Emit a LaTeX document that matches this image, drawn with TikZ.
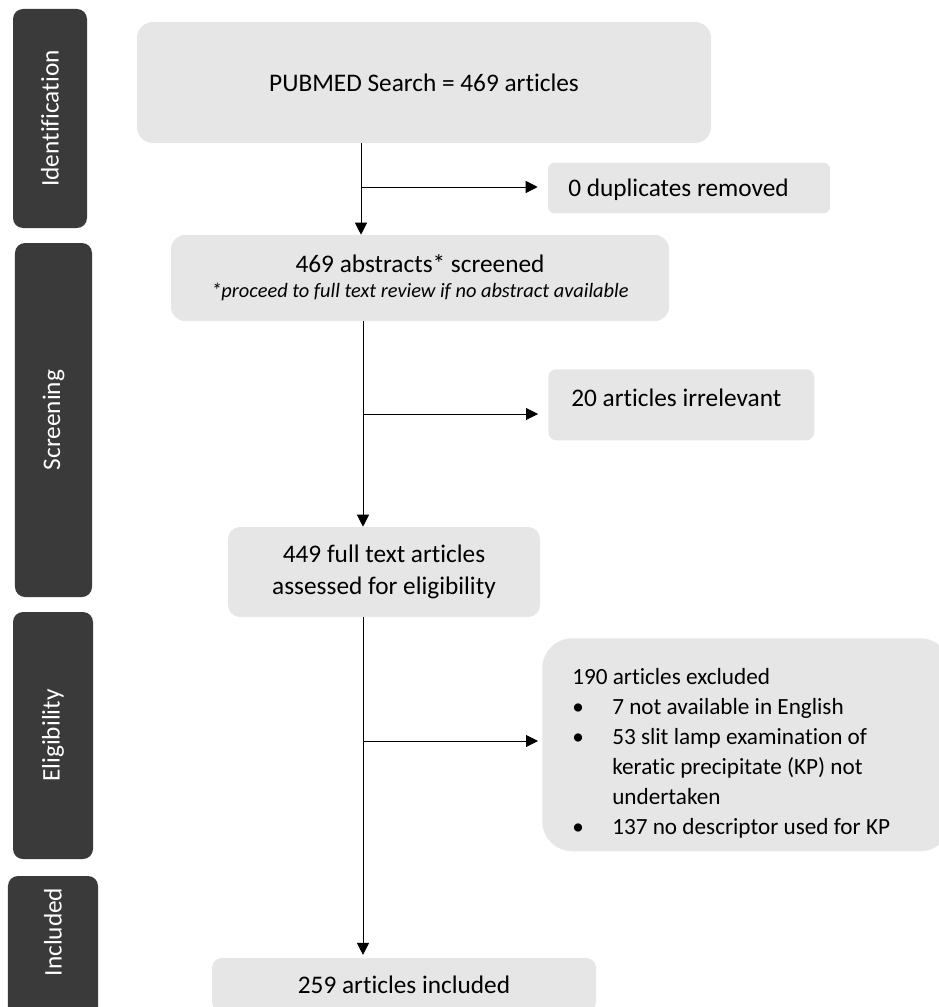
\documentclass[tikz,border=0pt]{standalone}
\usepackage{fontspec}
\setmainfont{Carlito}[Ligatures=NoCommon]
\usepackage{tikz}
\usetikzlibrary{calc, shapes, arrows.meta}
\definecolor{bardark}{RGB}{58,58,58}
\definecolor{boxgrey}{RGB}{230,230,230}

\begin{document}
\begin{tikzpicture}
\tikzstyle{phase}=[rounded corners=0.25cm,fill=bardark,text=white,rotate=90,inner sep=0pt,font=\fontsize{18}{22}\selectfont]
\tikzstyle{box}=[rounded corners=0.4cm,fill=boxgrey,inner sep=0pt,align=center,font=\fontsize{18}{22.5}\selectfont]
\tikzstyle{txt}=[inner sep=0pt,align=left,font=\fontsize{18}{22.5}\selectfont]
\tikzstyle{arr}=[-{Triangle[length=0.3cm,width=0.3cm]},line width=0.7pt]
\useasboundingbox (0,0) rectangle (23.475,-25.175);
% stage bars on the left
\node[phase,minimum width=5.475cm,minimum height=1.85cm] (P_id) at (1.25,-2.9625) {Identification};
\node[phase,minimum width=8.85cm,minimum height=1.925cm] (P_sc) at (1.3375,-10.5) {Screening};
\node[phase,minimum width=6.175cm,minimum height=2cm] (P_el) at (1.325,-18.3875) {Eligibility};
\node[phase,minimum width=4.5cm,minimum height=2.25cm] (P_in) at (1.325,-24.15) {};
\node[phase,fill=none] (P_in_t) at (1.325,-23.3) {Included};
% boxes
\node[box,minimum width=14.35cm,minimum height=3.025cm] (search) at (10.6,-2.0625) {PUBMED Search = 469 articles};
\node[box,rounded corners=0.15cm,minimum width=7.05cm,minimum height=1.25cm] (dup) at (17.225,-4.7) {};
\node[txt,anchor=west] (dup_t) at (14.2,-4.75) {0 duplicates removed};
\node[box,rounded corners=0.35cm,minimum width=12.45cm,minimum height=2.15cm] (abs) at (10.5,-6.95) {469 abstracts* screened\\[-4.5pt]{\fontsize{14.5}{17}\selectfont\itshape *proceed to full text review if no abstract available}};
\node[box,rounded corners=0.2cm,anchor=north west,minimum width=6.65cm,minimum height=1.775cm] (irr) at (13.7,-9.225) {};
\node[txt,anchor=west] (irr_t) at (14.275,-9.95) {20 articles irrelevant};
\node[box,rounded corners=0.3cm,minimum width=7.8cm,minimum height=2.25cm] (full) at (9.6,-14.3) {449 full text articles\\assessed for eligibility};
\node[box,rounded corners=0.75cm,anchor=north west,minimum width=10.2cm,minimum height=5.325cm] (excl) at (13.55,-15.95) {};
\node[txt,anchor=north west,font=\fontsize{16.5}{21.3}\selectfont] (excl_t) at (14.3,-16.7) {190 articles excluded\\
\makebox[1.0cm][l]{\textbullet}7 not available in English\\
\makebox[1.0cm][l]{\textbullet}53 slit lamp examination of\\
\hspace*{1.0cm}keratic precipitate (KP) not\\
\hspace*{1.0cm}undertaken\\
\makebox[1.0cm][l]{\textbullet}137 no descriptor used for KP};
\node[box,rounded corners=0.25cm,minimum width=9.6cm,minimum height=1.35cm] (incl) at (10.1,-24.625) {259 articles included};
% connectors
\coordinate (t1) at (9.025,-4.675);
\coordinate (t2) at (9.075,-10.35);
\coordinate (t3) at (9.075,-18.525);
\draw[arr] (search.south -| t1) -- (abs.north -| t1);
\draw[arr,shorten >=0.25cm] (t1) -- (t1 -| dup.west);
\draw[arr] (abs.south -| t2) -- (full.north -| t2);
\draw[arr,shorten >=0.25cm] (t2) -- (t2 -| irr.west);
\draw[arr,shorten >=0.07cm] (full.south -| t3) -- (incl.north -| t3);
\draw[arr,shorten >=0.1cm] (t3) -- (t3 -| excl.west);
\end{tikzpicture}
\end{document}
